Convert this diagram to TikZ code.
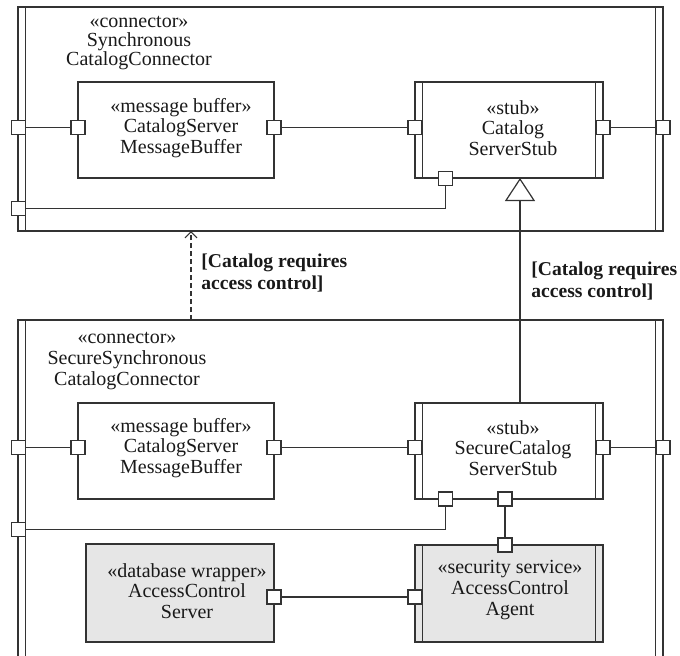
\documentclass[tikz,border=0pt]{standalone}
\usepackage{fontspec}
\setmainfont{Liberation Serif}
\usetikzlibrary{arrows.meta}
\definecolor{ink}{HTML}{333333}
\definecolor{shade}{HTML}{E6E6E6}
\tikzset{
  box/.style={draw=ink, line width=0.6pt, inner sep=0pt, outer sep=0pt},
  port/.style={draw=ink, fill=white, line width=0.6pt, minimum size=7pt, inner sep=0pt, outer sep=0pt},
  wire/.style={draw=ink, line width=0.6pt},
  txt/.style={align=center, font=\fontsize{10}{10.3}\selectfont, inner sep=0pt, text=black!90},
  title/.style={align=center, font=\fontsize{10}{9.7}\selectfont, inner sep=0pt, text=black!90},
  guard/.style={align=left, font=\fontsize{9.8}{10.6}\selectfont\bfseries, inner sep=0pt, anchor=west, text=black!90},
}
\begin{document}
\begin{tikzpicture}[x=0.5pt,y=-0.5pt]
\useasboundingbox (0,0) rectangle (680,655);
\clip (0,0) rectangle (680,655);

% connector components (active classes)
\node[box, minimum width=322.5pt, minimum height=112pt] (syn) at (340.5,119) {};
\node[box, minimum width=322.5pt, minimum height=175pt] (sec) at (340.5,495) {};

% inner parts
\node[box, minimum width=98pt, minimum height=48pt] (mbA) at (176,130) {};
\node[box, minimum width=94pt, minimum height=48pt] (stubA) at (509,130) {};
\node[box, minimum width=98pt, minimum height=48pt] (mbB) at (176,451) {};
\node[box, minimum width=94pt, minimum height=48pt] (stubB) at (509,451) {};
\node[box, fill=shade, minimum width=94pt, minimum height=49pt] (db) at (180,593) {};
\node[box, fill=shade, minimum width=94pt, minimum height=48.5pt] (ag) at (509,593.5) {};

% vertical bars of the active classes
\foreach \n in {syn,sec,stubA,stubB,ag}
  \draw[wire] ([xshift=3.75pt]\n.north west) -- ([xshift=3.75pt]\n.south west)
              ([xshift=-3.75pt]\n.north east) -- ([xshift=-3.75pt]\n.south east);

% titles and part labels
\node[title] (synT) at (139,43) {«connector»\\Synchronous\\CatalogConnector};
\node[txt] (secT) at (127,361) {«connector»\\SecureSynchronous\\CatalogConnector};
\node[txt] (mbAT) at (181,128) {«message buffer»\\CatalogServer\\MessageBuffer};
\node[txt] (stubAT) at (513,128) {«stub»\\Catalog\\ServerStub};
\node[txt] (mbBT) at (181,448) {«message buffer»\\CatalogServer\\MessageBuffer};
\node[txt] (stubBT) at (513,448) {«stub»\\SecureCatalog\\ServerStub};
\node[txt] (dbT) at (187,591) {«database wrapper»\\AccessControl\\Server};
\node[txt] (agT) at (510,590) {«security service»\\AccessControl\\Agent};

% ports
\node[port] (pSynL)  at (18.5,127.5) {};
\node[port] (pSynL2) at (18.5,208.5) {};
\node[port] (pSynR)  at (663,127.5) {};
\node[port] (pMbAL)  at (78,127.5) {};
\node[port] (pMbAR)  at (274,127.5) {};
\node[port] (pStAL)  at (415,127.5) {};
\node[port] (pStAR)  at (603,127.5) {};
\node[port] (pStAB)  at (445.5,178.5) {};

\node[port] (pSecL)  at (18.5,447.5) {};
\node[port] (pSecL2) at (18.5,529.5) {};
\node[port] (pSecR)  at (663,447.5) {};
\node[port] (pMbBL)  at (78,447.5) {};
\node[port] (pMbBR)  at (274,447.5) {};
\node[port] (pStBL)  at (415,447.5) {};
\node[port] (pStBR)  at (603,447.5) {};
\node[port] (pStBB1) at (445.5,499) {};
\node[port] (pStBB2) at (505,499) {};
\node[port] (pAgT)   at (505,545) {};
\node[port] (pAgL)   at (415,597) {};
\node[port] (pDbR)   at (274,597) {};

% wiring between ports
\draw[wire] (pSynL) -- (pMbAL);
\draw[wire] (pMbAR) -- (pStAL);
\draw[wire] (pStAR) -- (pSynR);
\draw[wire] (pStAB) |- (pSynL2);
\draw[wire] (pSecL) -- (pMbBL);
\draw[wire] (pMbBR) -- (pStBL);
\draw[wire] (pStBR) -- (pSecR);
\draw[wire] (pStBB1) |- (pSecL2);
\draw[wire] (pStBB2) -- (pAgT);
\draw[wire] (pDbR) -- (pAgL);

% generalization and dependency
\coordinate (g) at (520,0);
\draw[wire, -{Triangle[open, fill=white, length=11.5pt, width=15pt]}] (stubB.north -| g) -- (stubA.south -| g);
\coordinate (d) at (191,0);
\draw[wire, line width=0.9pt, dash pattern=on 2.5pt off 1.5pt, -{Straight Barb[length=3pt, width=6pt, line width=0.6pt]}] (sec.north -| d) -- (syn.south -| d);

% guard conditions
\node[guard] (gL) at (201,273) {[Catalog requires\\access control]};
\node[guard] (gR) at (531,281) {[Catalog requires\\access control]};
\end{tikzpicture}
\end{document}
